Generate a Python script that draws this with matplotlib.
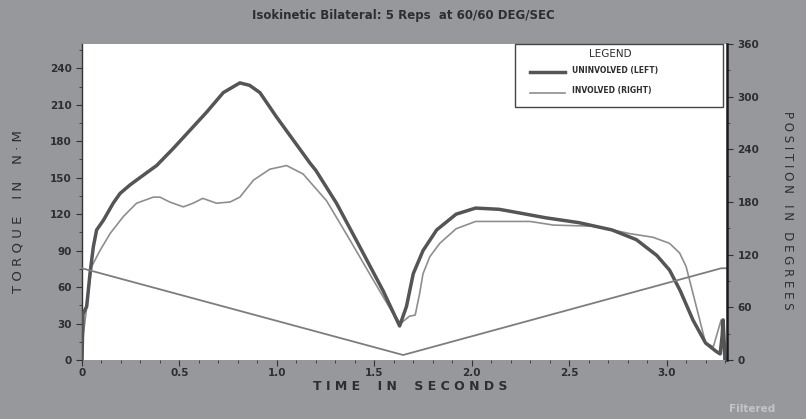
import numpy as np
import matplotlib.pyplot as plt
from matplotlib.ticker import MultipleLocator
from matplotlib.patches import Rectangle
from matplotlib.lines import Line2D

# torque curves (time in s, torque in N-M)
t_left = [0.0, 0.005, 0.024, 0.041, 0.058, 0.075, 0.11, 0.16, 0.195, 0.246, 0.314,
          0.383, 0.468, 0.554, 0.64, 0.725, 0.81, 0.86, 0.913, 0.998, 1.084, 1.17,
          1.2, 1.306, 1.426, 1.545, 1.63, 1.665, 1.70, 1.75, 1.82, 1.92, 2.02,
          2.14, 2.21, 2.38, 2.55, 2.72, 2.845, 2.95, 3.015, 3.07, 3.135, 3.20,
          3.255, 3.275, 3.285, 3.29, 3.30]
torque_left = [0, 38, 44, 71, 93, 107, 115, 129, 137, 144, 152,
               160, 174, 189, 204, 220, 228, 226, 220, 200, 181, 162,
               156, 129, 93, 57, 28, 44, 71, 90, 107, 120, 125,
               124, 122, 117, 113, 107, 99, 86, 74, 57, 33, 14,
               7, 5, 20, 33, 0]

t_right = [0.0, 0.003, 0.05, 0.092, 0.144, 0.212, 0.28, 0.366, 0.40, 0.45, 0.52,
           0.57, 0.62, 0.69, 0.76, 0.81, 0.88, 0.964, 1.05, 1.135, 1.255, 1.374,
           1.494, 1.597, 1.635, 1.68, 1.71, 1.733, 1.75, 1.785, 1.836, 1.92, 2.02,
           2.30, 2.42, 2.64, 2.81, 2.93, 3.015, 3.067, 3.10, 3.135, 3.17, 3.20,
           3.24, 3.26, 3.28, 3.295]
torque_right = [0, 16, 77, 90, 104, 118, 129, 134, 134, 130, 126,
                129, 133, 129, 130, 134, 148, 157, 160, 153, 131, 99,
                66, 38, 30, 36, 37, 55, 71, 85, 96, 108, 114,
                114, 111, 110, 104, 101, 96, 88, 77, 55, 33, 14,
                11, 22, 33, 0]

# position (degrees)
t_pos = [0.0, 1.648, 3.28, 3.31]
pos_deg = [104.5, 5.7, 104.5, 104.5]

legend_labels = ['UNINVOLVED (LEFT)', 'INVOLVED (RIGHT)']

bg = '#97989c'
txt = '#2e2e2e'
c_left = '#555555'
c_right = '#8e8e8e'

W, H = 806, 419
fig = plt.figure(figsize=(W/100, H/100), dpi=100, facecolor=bg)
ax = fig.add_axes([82/W, 1-360/H, (727-82)/W, (360-44)/H])
ax.set_facecolor('white')

ax.plot(t_left, torque_left, color=c_left, lw=2.5, solid_joinstyle='round', zorder=3)
ax.plot(t_right, torque_right, color=c_right, lw=1.2, zorder=2)

ax.set_xlim(0, 3.31)
ax.set_ylim(0, 260)
ax.xaxis.set_minor_locator(MultipleLocator(0.1))
ax.yaxis.set_minor_locator(MultipleLocator(15))
ax.set_yticks(range(0, 241, 30))
ax.set_xticks([0, 0.5, 1.0, 1.5, 2.0, 2.5, 3.0])
ax.set_xticklabels(['0', '0.5', '1.0', '1.5', '2.0', '2.5', '3.0'])

for s in ['top', 'bottom', 'right']:
    ax.spines[s].set_visible(False)
ax.spines['left'].set_color('#333333')
ax.spines['left'].set_linewidth(1.0)

ax.tick_params(which='both', colors='#333333', labelsize=7.5, labelcolor=txt)
ax.tick_params(which='major', length=4, width=0.8)
ax.tick_params(which='minor', length=2.5, width=0.6)
ax.tick_params(axis='x', pad=1.5)
for lab in ax.get_xticklabels() + ax.get_yticklabels():
    lab.set_fontweight('bold')

ax2 = ax.twinx()
ax2.plot(t_pos, pos_deg, color='#7d7d7d', lw=1.3, zorder=1)
ax2.set_ylim(0, 360)
ax2.yaxis.set_major_locator(MultipleLocator(60))
ax2.yaxis.set_minor_locator(MultipleLocator(30))
for s in ['top', 'bottom', 'left']:
    ax2.spines[s].set_visible(False)
ax2.spines['right'].set_color('#1a1a1a')
ax2.spines['right'].set_linewidth(1.8)
ax2.tick_params(which='both', colors='#333333', labelsize=7.5, labelcolor=txt)
ax2.tick_params(which='major', length=4, width=0.8)
ax2.tick_params(which='minor', length=2.5, width=0.6)
for lab in ax2.get_yticklabels():
    lab.set_fontweight('bold')

# legend box, drawn by hand to match the instrument printout
fig.patches.append(Rectangle((515/W, 1-107/H), (723-515)/W, (107-44)/H,
                             transform=fig.transFigure, facecolor='white',
                             edgecolor='#444444', lw=1.0, zorder=5))
fig.text(610/W, 1-54/H, 'LEGEND', ha='center', va='center', fontsize=7.5,
         color=txt, zorder=6)
for yy, lab, col, lw in [(72, legend_labels[0], c_left, 2.5), (93, legend_labels[1], c_right, 1.2)]:
    fig.lines.append(Line2D([530/W, 565/W], [1-yy/H, 1-yy/H], transform=fig.transFigure,
                            color=col, lw=lw, zorder=6))
    fig.text(572/W, 1-(yy-2)/H, lab, ha='left', va='center', fontsize=5.5,
             fontweight='bold', color=txt, zorder=6)

fig.text(403/W, 1-16/H, 'Isokinetic Bilateral: 5 Reps  at 60/60 DEG/SEC',
         ha='center', va='center', fontsize=8.5, fontweight='bold', color=txt)
fig.text(410/W, 1-386/H, 'T I M E    I N    S E C O N D S',
         ha='center', va='center', fontsize=9, fontweight='bold', color=txt)
fig.text(18/W, 1-212/H, 'T O R Q U E    I N    N · M', rotation=90,
         ha='center', va='center', fontsize=9.5, color=txt)
fig.text(787/W, 1-210/H, 'P O S I T I O N   I N   D E G R E E S', rotation=270,
         ha='center', va='center', fontsize=8.5, color=txt)
fig.text(752/W, 1-409/H, 'Filtered', ha='center', va='center',
         fontsize=7.5, fontweight='bold', color='#c4c4c4')

fig.savefig('out.png', dpi=100, facecolor=bg)
